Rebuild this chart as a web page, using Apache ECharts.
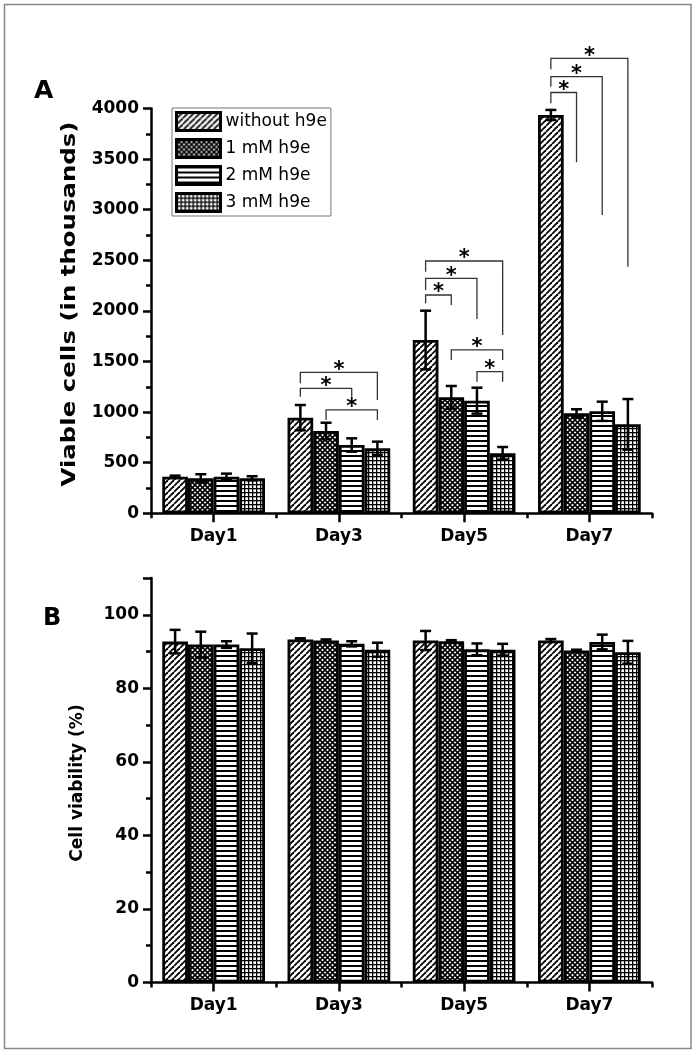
<!DOCTYPE html>
<html>
<head>
<meta charset="utf-8">
<script src="https://cdn.jsdelivr.net/npm/echarts@6/dist/echarts.min.js"></script>
<style>
html,body{margin:0;padding:0;background:#fff;}
#chart{width:696px;height:1054px;}
</style>
</head>
<body>
<div id="chart"></div>
<script>
// ---------------- data ----------------
const categories = ['Day1', 'Day3', 'Day5', 'Day7'];
const seriesNames = ['without h9e', '1 mM h9e', '2 mM h9e', '3 mM h9e'];

// Panel A: viable cells (in thousands), mean and error per series
const viableWithout = [362, 945, 1712, 3936];
const viable1mM     = [346, 813, 1146, 988];
const viable2mM     = [362, 675, 1113, 1008];
const viable3mM     = [346, 642, 593, 879];
const viableErrWithout = [10, 125, 290, 50];
const viableErr1mM     = [40, 82, 112, 40];
const viableErr2mM     = [30, 66, 128, 95];
const viableErr3mM     = [20, 66, 62, 250];

// Panel B: cell viability (%), mean and error per series
const viabWithout = [92.7, 93.3, 93.0, 93.0];
const viab1mM     = [91.9, 93.0, 92.8, 90.3];
const viab2mM     = [91.9, 92.1, 90.6, 92.6];
const viab3mM     = [90.9, 90.5, 90.5, 89.8];
const viabErrWithout = [3.2, 0.3, 2.6, 0.4];
const viabErr1mM     = [3.5, 0.3, 0.3, 0.2];
const viabErr2mM     = [0.9, 0.7, 1.6, 2.0];
const viabErr3mM     = [4.0, 1.9, 1.6, 3.1];

// significance brackets (panel A): [day index, from bar, to bar, top value, left leg end, right leg end]
const brackets = [
  [1, 0, 2, 1235, 1152, 1152],
  [1, 0, 3, 1393, 1285, 1120],
  [1, 1, 3, 1021, 922, 922],
  [2, 0, 1, 2157, 2075, 2058],
  [2, 0, 2, 2322, 2207, 1920],
  [2, 0, 3, 2493, 2387, 1761],
  [2, 1, 3, 1614, 1515, 1515],
  [2, 2, 3, 1399, 1300, 1300],
  [3, 0, 1, 4158, 4051, 3468],
  [3, 0, 2, 4314, 4215, 2948],
  [3, 0, 3, 4496, 4387, 2437]
];

const viableMeans = [viableWithout, viable1mM, viable2mM, viable3mM];
const viableErrs = [viableErrWithout, viableErr1mM, viableErr2mM, viableErr3mM];
const viabMeans = [viabWithout, viab1mM, viab2mM, viab3mM];
const viabErrs = [viabErrWithout, viabErr1mM, viabErr2mM, viabErr3mM];

// ---------------- patterns ----------------
function makeTile(w, h, draw) {
  const c = document.createElement('canvas');
  c.width = w; c.height = h;
  const ctx = c.getContext('2d');
  ctx.fillStyle = '#fff';
  ctx.fillRect(0, 0, w, h);
  ctx.strokeStyle = '#000';
  ctx.fillStyle = '#000';
  draw(ctx, w, h);
  return { image: c, repeat: 'repeat' };
}
const patterns = [
  makeTile(6, 6, function (ctx) {
    ctx.lineWidth = 1.8;
    [0, 6, 12].forEach(function (k) { ctx.beginPath(); ctx.moveTo(k, 0); ctx.lineTo(k - 6, 6); ctx.stroke(); });
  }),
  makeTile(5, 5, function (ctx) {
    ctx.lineWidth = 1.6;
    [0, 5, 10].forEach(function (k) { ctx.beginPath(); ctx.moveTo(k, 0); ctx.lineTo(k - 5, 5); ctx.stroke(); });
    [-5, 0, 5].forEach(function (k) { ctx.beginPath(); ctx.moveTo(k, 0); ctx.lineTo(k + 5, 5); ctx.stroke(); });
  }),
  makeTile(4, 5, function (ctx, w) {
    ctx.fillRect(0, 0, w, 2);
  }),
  makeTile(4, 4, function (ctx, w, h) {
    ctx.fillRect(0, 0, w, 1.3);
    ctx.fillRect(0, 0, 1.3, h);
  })
];

// ---------------- helpers ----------------
const GAP = 0.18;
function barX(api, cat, bar) {
  const c = api.coord([cat, 0]);
  const band = api.size([1, 0])[0];
  const bw = band * (1 - GAP) / 4;
  return c[0] + (bar - 1.5) * bw;
}
function errRender(bar) {
  return function (params, api) {
    const cat = api.value(0), m = api.value(1), e = api.value(2);
    const x = barX(api, cat, bar);
    const yTop = api.coord([cat, m + e])[1];
    const yBot = api.coord([cat, m - e])[1];
    const hw = 5.5;
    const st = { stroke: '#000', lineWidth: 2.5 };
    return {
      type: 'group',
      children: [
        { type: 'line', shape: { x1: x, y1: yBot, x2: x, y2: yTop }, style: st },
        { type: 'line', shape: { x1: x - hw, y1: yTop, x2: x + hw, y2: yTop }, style: st },
        { type: 'line', shape: { x1: x - hw, y1: yBot, x2: x + hw, y2: yBot }, style: st }
      ]
    };
  };
}
function bracketRender(params, api) {
  const cat = api.value(0), b0 = api.value(1), b1 = api.value(2);
  const top = api.value(3), l = api.value(4), r = api.value(5);
  const x0 = barX(api, cat, b0), x1 = barX(api, cat, b1);
  const yT = api.coord([cat, top])[1];
  const yL = api.coord([cat, l])[1];
  const yR = api.coord([cat, r])[1];
  return {
    type: 'group',
    children: [
      { type: 'polyline', shape: { points: [[x0, yL], [x0, yT], [x1, yT], [x1, yR]] },
        style: { stroke: '#333', lineWidth: 1.3, fill: null } },
      { type: 'text', x: (x0 + x1) / 2, y: yT - 2,
        style: { text: '*', fill: '#000', font: 'bold 21px "DejaVu Sans", sans-serif',
                 align: 'center', verticalAlign: 'middle' } }
    ]
  };
}

const FONT = '"DejaVu Sans", "Liberation Sans", Arial, sans-serif';
function xAxes(grid) {
  return [
    { gridIndex: grid, type: 'category', data: categories, position: 'bottom',
      axisLine: { show: true, lineStyle: { color: '#000', width: 2.5 } },
      axisTick: { show: true, length: 5, interval: 0, lineStyle: { color: '#000', width: 2.5 } },
      axisLabel: { show: false }, splitLine: { show: false } },
    { gridIndex: grid, type: 'category', data: categories, position: 'bottom',
      axisLine: { show: false },
      axisTick: { show: true, alignWithLabel: true, length: 9, interval: 0, lineStyle: { color: '#000', width: 2.5 } },
      axisLabel: { show: true, interval: 0, color: '#000', fontFamily: FONT, fontWeight: 'bold', fontSize: 17, margin: 15 },
      splitLine: { show: false } }
  ];
}
function yAxis(grid, max, interval) {
  return {
    gridIndex: grid, type: 'value', min: 0, max: max, interval: interval,
    axisLine: { show: true, lineStyle: { color: '#000', width: 2.5 } },
    axisTick: { show: true, length: 8, lineStyle: { color: '#000', width: 2.5 } },
    minorTick: { show: true, splitNumber: 2, length: 5, lineStyle: { color: '#000', width: 2.5 } },
    splitLine: { show: false },
    axisLabel: { color: '#000', fontFamily: FONT, fontWeight: 'bold', fontSize: 17, margin: 12,
                 showMaxLabel: max % interval === 0,
                 formatter: function (v) { return String(v); } }
  };
}

const series = [];
for (let i = 0; i < 4; i++) {
  series.push({
    name: seriesNames[i], type: 'bar', xAxisIndex: 0, yAxisIndex: 0,
    barCategoryGap: (GAP * 100) + '%', barGap: '0%',
    data: viableMeans[i],
    itemStyle: { color: patterns[i], borderColor: '#000', borderWidth: 2.8 },
    emphasis: { disabled: true }, z: 2
  });
}
for (let i = 0; i < 4; i++) {
  series.push({
    name: seriesNames[i], type: 'bar', xAxisIndex: 2, yAxisIndex: 1,
    barCategoryGap: (GAP * 100) + '%', barGap: '0%',
    data: viabMeans[i],
    itemStyle: { color: patterns[i], borderColor: '#000', borderWidth: 2.8 },
    emphasis: { disabled: true }, z: 2
  });
}
for (let i = 0; i < 4; i++) {
  series.push({
    type: 'custom', xAxisIndex: 0, yAxisIndex: 0, clip: false, z: 4,
    renderItem: errRender(i), encode: { x: 0, y: 1 },
    data: categories.map(function (c, j) { return [j, viableMeans[i][j], viableErrs[i][j]]; })
  });
  series.push({
    type: 'custom', xAxisIndex: 2, yAxisIndex: 1, clip: false, z: 4,
    renderItem: errRender(i), encode: { x: 0, y: 1 },
    data: categories.map(function (c, j) { return [j, viabMeans[i][j], viabErrs[i][j]]; })
  });
}
series.push({
  type: 'custom', xAxisIndex: 0, yAxisIndex: 0, clip: false, z: 5,
  renderItem: bracketRender, encode: { x: 0, y: 3 },
  data: brackets
});

const option = {
  animation: false,
  backgroundColor: '#fff',
  grid: [
    { left: 151, right: 44, top: 108.5, bottom: 540.7 },
    { left: 151, right: 44, top: 578, bottom: 71.5 }
  ],
  xAxis: xAxes(0).concat(xAxes(1)),
  yAxis: [yAxis(0, 4000, 500), yAxis(1, 110, 20)],
  legend: {
    data: seriesNames, orient: 'vertical', left: 172, top: 108,
    icon: 'rect', itemWidth: 44, itemHeight: 18, itemGap: 6,
    padding: [3, 4, 3, 3], borderColor: '#777', borderWidth: 1,
    itemStyle: { borderColor: '#000', borderWidth: 3 },
    textStyle: { color: '#000', fontFamily: FONT, fontSize: 17 },
    selectedMode: false
  },
  graphic: [
    { type: 'rect', shape: { x: 4.5, y: 4.5, width: 686.5, height: 1044 },
      style: { fill: null, stroke: '#888', lineWidth: 1.5 }, silent: true },
    { type: 'text', left: 34, top: 79,
      style: { text: 'A', fill: '#000', font: 'bold 25px ' + FONT } },
    { type: 'text', left: 43, top: 607,
      style: { text: 'B', fill: '#000', font: 'bold 24px ' + FONT } },
    { type: 'text', x: 70, y: 304, rotation: Math.PI / 2, scaleX: 1.22,
      style: { text: 'Viable cells (in thousands)', fill: '#000', font: 'bold 20px ' + FONT,
               align: 'center', verticalAlign: 'middle' } },
    { type: 'text', x: 78, y: 783, rotation: Math.PI / 2,
      style: { text: 'Cell viability (%)', fill: '#000', font: 'bold 17px ' + FONT,
               align: 'center', verticalAlign: 'middle' } }
  ],
  series: series
};

const chart = echarts.init(document.getElementById('chart'), null, { renderer: 'canvas' });
chart.setOption(option);
</script>
</body>
</html>
